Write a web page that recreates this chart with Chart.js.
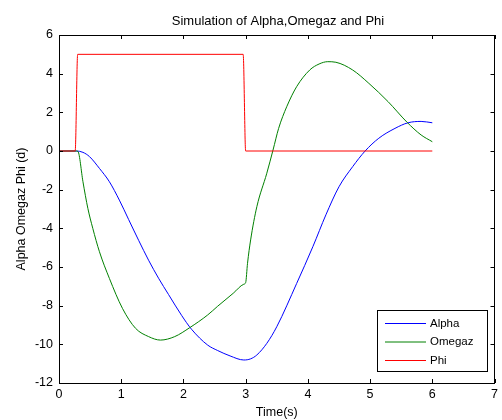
<!DOCTYPE html>
<html lang="en">
  <head>
    <meta charset="UTF-8" />
    <title>Simulation of Alpha, Omegaz and Phi</title>
    <script src="https://cdn.jsdelivr.net/npm/chart.js"></script>
    <style>
      body { margin: 0; background: #fff; }
    </style>
  </head>
  <body>
    <canvas id="myChart" width="502" height="420"></canvas>

    <script>
      // data
      const alphaTime = [0, 0.28, 0.385, 0.49, 0.65, 0.81, 0.97, 1.12, 1.28, 1.44, 1.6, 1.76, 1.97, 2.13, 2.39, 2.55, 2.75, 2.97, 3.08, 3.18, 3.34, 3.5, 3.82, 4.08, 4.29, 4.5, 4.72, 4.92, 5.14, 5.4, 5.61, 5.82, 6.0];
      const alphaValues = [0, 0, -0.07, -0.29, -0.9, -1.59, -2.54, -3.55, -4.62, -5.65, -6.58, -7.42, -8.5, -9.22, -10.04, -10.32, -10.6, -10.81, -10.75, -10.55, -9.95, -9.09, -6.85, -4.95, -3.3, -1.85, -0.81, 0, 0.66, 1.17, 1.46, 1.53, 1.46];

      const omegazTime = [0, 0.28, 0.306, 0.385, 0.464, 0.543, 0.65, 0.81, 1.02, 1.23, 1.44, 1.63, 1.86, 2.1, 2.39, 2.55, 2.8, 2.97, 3.0, 3.03, 3.08, 3.18, 3.34, 3.44, 3.53, 3.66, 3.82, 4.03, 4.18, 4.32, 4.45, 4.72, 4.98, 5.29, 5.59, 5.82, 6.0];
      const omegazValues = [0, 0, -0.03, -1.59, -2.97, -4.0, -5.21, -6.59, -8.14, -9.17, -9.6, -9.78, -9.6, -9.14, -8.48, -8.03, -7.36, -6.89, -6.81, -5.81, -4.6, -2.88, -1.15, 0.05, 1.17, 2.29, 3.33, 4.19, 4.5, 4.62, 4.59, 4.19, 3.5, 2.55, 1.5, 0.83, 0.48];

      const phiTime = [0, 0.26, 0.3, 2.96, 3.0, 6.0];
      const phiValues = [0, 0, 5, 5, 0, 0];

      const xTicks = [0, 1, 2, 3, 4, 5, 6, 7];
      const yTicks = [-12, -10, -8, -6, -4, -2, 0, 2, 4, 6];

      const seriesNames = ["Alpha", "Omegaz", "Phi"];
      const seriesColors = ["#0000ff", "#008000", "#ff0000"];

      function toPoints(times, values) {
        return times.map(function (t, i) {
          return { x: t, y: values[i] };
        });
      }

      // frame, inward ticks, title and legend in MATLAB style
      const matlabFrame = {
        id: "matlabFrame",
        afterDraw(chart) {
          const ctx = chart.ctx;
          const a = chart.chartArea;
          const xs = chart.scales.x;
          const ys = chart.scales.y;
          ctx.save();
          ctx.strokeStyle = "#000";
          ctx.lineWidth = 1;
          ctx.beginPath();
          xTicks.forEach(function (v) {
            const px = Math.round(xs.getPixelForValue(v)) + 0.5;
            ctx.moveTo(px, a.bottom);
            ctx.lineTo(px, a.bottom - 4);
            ctx.moveTo(px, a.top);
            ctx.lineTo(px, a.top + 4);
          });
          yTicks.forEach(function (v) {
            const py = Math.round(ys.getPixelForValue(v)) + 0.5;
            ctx.moveTo(a.left, py);
            ctx.lineTo(a.left + 4, py);
            ctx.moveTo(a.right, py);
            ctx.lineTo(a.right - 4, py);
          });
          ctx.stroke();
          ctx.strokeRect(Math.round(a.left) + 0.5, Math.round(a.top) + 0.5,
            Math.round(a.right - a.left) - 1, Math.round(a.bottom - a.top));

          // title
          ctx.fillStyle = "#000";
          ctx.font = "13px 'Liberation Sans', Arial, sans-serif";
          ctx.textAlign = "center";
          ctx.textBaseline = "middle";
          ctx.fillText("Simulation of Alpha,Omegaz and Phi", 278, 21);

          // legend box
          const lx = 377.5, ly = 310.5, lw = 110, lh = 61;
          ctx.fillStyle = "#fff";
          ctx.fillRect(lx, ly, lw, lh);
          ctx.strokeRect(lx, ly, lw, lh);
          ctx.font = "11.5px 'Liberation Sans', Arial, sans-serif";
          ctx.textAlign = "left";
          seriesNames.forEach(function (name, i) {
            const yy = 323.5 + i * 18.5;
            ctx.strokeStyle = seriesColors[i];
            ctx.beginPath();
            ctx.moveTo(385, yy);
            ctx.lineTo(426, yy);
            ctx.stroke();
            ctx.fillStyle = "#000";
            ctx.fillText(name, 430, yy);
          });
          ctx.restore();
        }
      };

      const data = {
        datasets: [
          {
            label: seriesNames[0],
            data: toPoints(alphaTime, alphaValues),
            borderColor: seriesColors[0],
            order: 2
          },
          {
            label: seriesNames[1],
            data: toPoints(omegazTime, omegazValues),
            borderColor: seriesColors[1],
            order: 1
          },
          {
            label: seriesNames[2],
            data: toPoints(phiTime, phiValues),
            borderColor: seriesColors[2],
            order: 0
          }
        ]
      };

      const tickFont = { family: "'Liberation Sans', Arial, sans-serif", size: 12.5 };

      const config = {
        type: "line",
        data: data,
        plugins: [matlabFrame],
        options: {
          responsive: false,
          animation: false,
          layout: { padding: { top: 35, right: 1, left: 0, bottom: 0 } },
          elements: {
            line: { borderWidth: 1, tension: 0.3, cubicInterpolationMode: "monotone" },
            point: { radius: 0 }
          },
          plugins: {
            legend: { display: false },
            title: { display: false },
            tooltip: { enabled: false }
          },
          scales: {
            x: {
              type: "linear",
              min: 0,
              max: 7,
              afterFit: function (s) { s.height = 37; },
              afterBuildTicks: function (s) {
                s.ticks = xTicks.map(function (v) { return { value: v }; });
              },
              grid: { display: false, drawTicks: false },
              border: { display: false },
              ticks: { color: "#000", font: tickFont, padding: 4, maxRotation: 0 },
              title: {
                display: true,
                text: "Time(s)",
                color: "#000",
                font: tickFont,
                padding: { top: 0, bottom: 0 }
              }
            },
            y: {
              min: -12,
              max: 6,
              afterFit: function (s) { s.width = 59; },
              afterBuildTicks: function (s) {
                s.ticks = yTicks.map(function (v) { return { value: v }; });
              },
              grid: { display: false, drawTicks: false },
              border: { display: false },
              ticks: { color: "#000", font: tickFont, padding: 6 },
              title: {
                display: true,
                text: "Alpha Omegaz Phi (d)",
                color: "#000",
                font: tickFont,
                padding: { top: 14, bottom: 0 }
              }
            }
          }
        }
      };

      const myChart = new Chart(document.getElementById("myChart"), config);
    </script>
  </body>
</html>
